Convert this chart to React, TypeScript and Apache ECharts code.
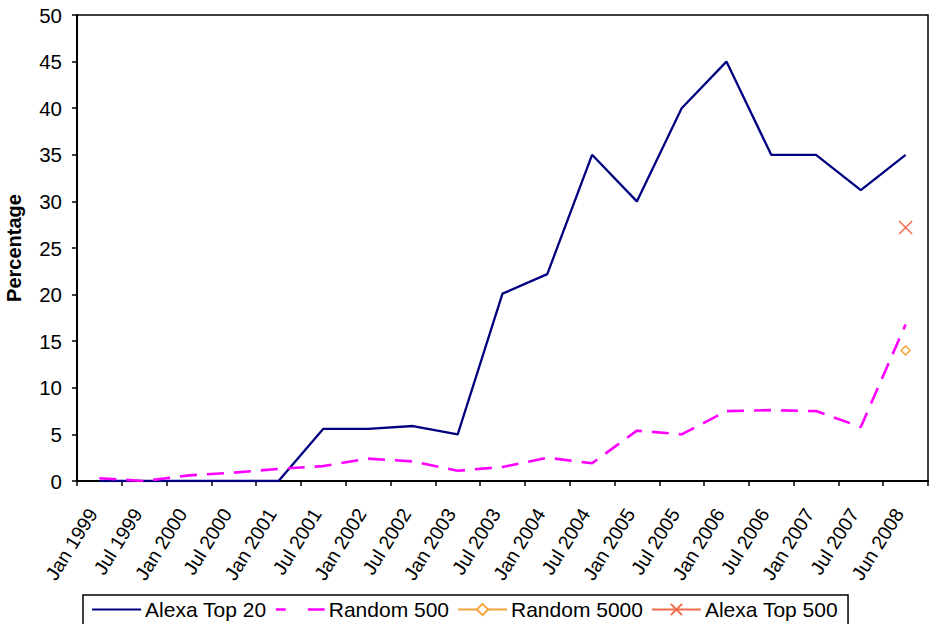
import React, { useEffect, useRef } from "react";
import * as echarts from "echarts";

const categories = [
  "Jan 1999", "Jul 1999", "Jan 2000", "Jul 2000", "Jan 2001", "Jul 2001",
  "Jan 2002", "Jul 2002", "Jan 2003", "Jul 2003", "Jan 2004", "Jul 2004",
  "Jan 2005", "Jul 2005", "Jan 2006", "Jul 2006", "Jan 2007", "Jul 2007",
  "Jun 2008",
];

const alexaTop20 = [0, 0, 0, 0, 0, 5.6, 5.6, 5.9, 5.0, 20.1, 22.2, 35.0, 30.0, 40.0, 45.0, 35.0, 35.0, 31.2, 35.0];
const random500 = [0.3, 0, 0.6, 0.9, 1.3, 1.6, 2.4, 2.1, 1.1, 1.5, 2.5, 1.9, 5.4, 5.0, 7.5, 7.6, 7.5, 5.8, 16.8];
const random5000 = [null, null, null, null, null, null, null, null, null, null, null, null, null, null, null, null, null, null, 14.0];
const alexaTop500 = [null, null, null, null, null, null, null, null, null, null, null, null, null, null, null, null, null, null, 27.2];

const yTicks = { min: 0, max: 50, interval: 5 };

const FONT = "'Liberation Sans', Arial, sans-serif";

export default function App() {
  const ref = useRef<HTMLDivElement>(null);
  useEffect(() => {
    if (!ref.current) return;
    const chart = echarts.init(ref.current, null, { renderer: "svg" });
    chart.setOption({
      animation: false,
      backgroundColor: "#fff",
      textStyle: { fontFamily: FONT },
      grid: {
        left: 77,
        right: 3,
        top: 15,
        bottom: 143,
        show: true,
        borderColor: "#000",
        borderWidth: 1.5,
        containLabel: false,
        outerBoundsMode: "none",
      },
      legend: {
        left: 83,
        top: 595,
        itemWidth: 49,
        itemHeight: 14,
        itemGap: 8,
        padding: [4, 10, 10, 8],
        borderColor: "#000",
        borderWidth: 1.5,
        textStyle: { fontSize: 21, color: "#000", fontFamily: FONT, padding: [0, 0, 0, -1] },
        data: [
          { name: "Alexa Top 20", itemStyle: { opacity: 0 }, lineStyle: { width: 2.2 } },
          { name: "Random 500", itemStyle: { opacity: 0 }, lineStyle: { width: 2.5, type: [10, 22, 20, 10] } },
          { name: "Random 5000" },
          { name: "Alexa Top 500" },
        ],
      },
      xAxis: {
        type: "category",
        data: categories,
        boundaryGap: true,
        axisLine: { lineStyle: { color: "#000", width: 2 } },
        axisTick: { show: true, length: 5, alignWithLabel: false, lineStyle: { color: "#000", width: 1.5 } },
        axisLabel: {
          rotate: 58,
          fontSize: 19.5,
          color: "#000",
          margin: 18,
          interval: 0,
          fontFamily: FONT,
          padding: [0, 13, 0, 0],
        },
        splitLine: { show: false },
      },
      yAxis: {
        type: "value",
        min: yTicks.min,
        max: yTicks.max,
        interval: yTicks.interval,
        name: "Percentage",
        nameLocation: "middle",
        nameRotate: 90,
        nameGap: 53,
        nameTextStyle: { fontSize: 20, fontWeight: "bold", color: "#000", fontFamily: FONT },
        axisLine: { show: true, lineStyle: { color: "#000", width: 2 } },
        axisTick: { show: true, length: 5, lineStyle: { color: "#000", width: 1.5 } },
        axisLabel: { fontSize: 20.5, color: "#000", margin: 15, fontFamily: FONT },
        splitLine: { show: false },
      },
      series: [
        {
          name: "Alexa Top 20",
          type: "line",
          data: alexaTop20,
          symbol: "none",
          color: "#000080",
          lineStyle: { color: "#000080", width: 2.3 },
        },
        {
          name: "Random 500",
          type: "line",
          data: random500,
          symbol: "none",
          color: "#FF00FF",
          lineStyle: { color: "#FF00FF", width: 2.6, type: [17, 10] },
        },
        {
          name: "Random 5000",
          type: "line",
          data: random5000,
          symbol: "diamond",
          symbolSize: 9,
          showSymbol: true,
          color: "#F5A33B",
          lineStyle: { color: "#F5A33B", width: 1.5 },
          itemStyle: { color: "#fff", borderColor: "#F5A33B", borderWidth: 1.5 },
        },
        {
          name: "Alexa Top 500",
          type: "line",
          data: alexaTop500,
          symbol: "path://M0,0L10,10M10,0L0,10",
          symbolSize: 13,
          showSymbol: true,
          color: "#F26B4A",
          lineStyle: { color: "#F26B4A", width: 1.5 },
          itemStyle: { color: "#F26B4A", borderColor: "#F26B4A", borderWidth: 1.5 },
        },
      ],
    });
    return () => chart.dispose();
  }, []);
  return <div ref={ref} style={{ width: 931, height: 624, position: "absolute", left: 0, top: 0 }} />;
}
